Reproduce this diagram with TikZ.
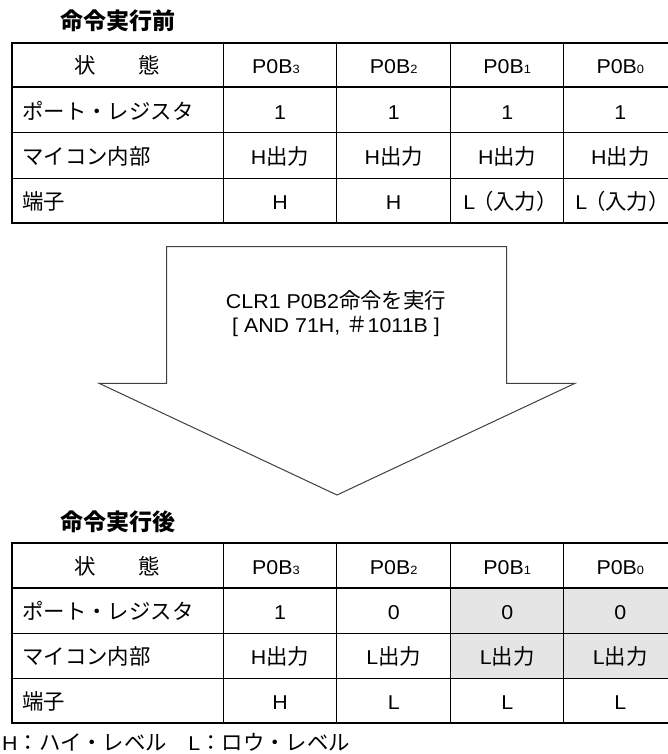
\documentclass[tikz,border=0pt]{standalone}
\usepackage{fontspec}
\setmainfont{Liberation Sans}[FakeStretch=1.07]
\newfontfamily\cjk{Noto Sans CJK JP}[Scale=1.07]
\newcommand\sbs[1]{{\fontsize{12}{12}\selectfont #1}}
\newcommand\inpL{L{\cjk\kern-3pt（入力）\kern-5pt}}
\begin{document}
\begin{tikzpicture}[x=1pt,y=-1pt,
  thin line/.style={line width=1pt, black},
  thick line/.style={line width=2pt, black},
  cell/.style={anchor=base, inner sep=0pt, font=\fontsize{20}{24}\selectfont},
  lcell/.style={cell, anchor=base west},
  title/.style={anchor=base, inner sep=0pt, font=\cjk\bfseries\fontsize{21.5}{21.5}\selectfont},
  shade/.style={fill=black!10, draw=none},
  bigarrow/.style={draw=black!75, line width=1pt, fill=white, line join=miter}]
\useasboundingbox (0,0) rectangle (667,754);

% ---------- Table 1 (before) ----------
\node[title] (t1) at (118,30) {命令実行前};
\foreach \y in {133,178.3} \draw[thin line] (12,\y) -- (677,\y);
\foreach \x in {223.3,336.7,450.7,563.7} \draw[thin line] (\x,42.7) -- (\x,222.7);
\draw[thick line] (12,87.5) -- (677,87.5);
\draw[thick line] (12,42.7) rectangle (677,222.7);

\node[cell] (a00) at (117,74) {\cjk 状　　態};
\node[cell] (a01) at (276,74) {P0B\sbs{3}};
\node[cell] (a02) at (393.7,74) {P0B\sbs{2}};
\node[cell] (a03) at (507.2,74) {P0B\sbs{1}};
\node[cell] (a04) at (620.3,74) {P0B\sbs{0}};

\node[lcell] (a10) at (22,119.2) {\cjk ポート・レジスタ};
\node[cell] (a11) at (280,119.2) {1};
\node[cell] (a12) at (393.7,119.2) {1};
\node[cell] (a13) at (507.2,119.2) {1};
\node[cell] (a14) at (620.3,119.2) {1};

\node[lcell] (a20) at (22,164.6) {\cjk マイコン内部};
\node[cell] (a21) at (280,164.6) {H{\cjk 出力}};
\node[cell] (a22) at (393.7,164.6) {H{\cjk 出力}};
\node[cell] (a23) at (507.2,164.6) {H{\cjk 出力}};
\node[cell] (a24) at (620.3,164.6) {H{\cjk 出力}};

\node[lcell] (a30) at (22,209.5) {\cjk 端子};
\node[cell] (a31) at (280,209.5) {H};
\node[cell] (a32) at (393.7,209.5) {H};
\node[cell] (a33) at (508,209.5) {\inpL};
\node[cell] (a34) at (620,209.5) {\inpL};

% ---------- Arrow ----------
\draw[bigarrow] (166.7,246.7) -- (506.7,246.7) -- (506.7,383.3) -- (575,383.3)
  -- (337,495) -- (99,383.3) -- (166.7,383.3) -- cycle;
\node[cell] (cmd1) at (336,308) {CLR1 P0B2{\cjk 命令を実行}};
\node[cell] (cmd2) at (336,332) {[ AND 71H, {\cjk ＃}1011B ]};

% ---------- Table 2 (after) ----------
\node[title] (t2) at (118,530) {命令実行後};
\fill[shade] (450.7,587.5) rectangle (677,678.3);
\foreach \y in {633,678.3} \draw[thin line] (12,\y) -- (677,\y);
\foreach \x in {223.3,336.7,450.7,563.7} \draw[thin line] (\x,542.7) -- (\x,722.7);
\draw[thick line] (12,587.5) -- (677,587.5);
\draw[thick line] (12,542.7) rectangle (677,722.7);

\node[cell] (b00) at (117,574) {\cjk 状　　態};
\node[cell] (b01) at (276,574) {P0B\sbs{3}};
\node[cell] (b02) at (393.7,574) {P0B\sbs{2}};
\node[cell] (b03) at (507.2,574) {P0B\sbs{1}};
\node[cell] (b04) at (620.3,574) {P0B\sbs{0}};

\node[lcell] (b10) at (22,619.2) {\cjk ポート・レジスタ};
\node[cell] (b11) at (280,619.2) {1};
\node[cell] (b12) at (393.7,619.2) {0};
\node[cell] (b13) at (507.2,619.2) {0};
\node[cell] (b14) at (620.3,619.2) {0};

\node[lcell] (b20) at (22,664.6) {\cjk マイコン内部};
\node[cell] (b21) at (280,664.6) {H{\cjk 出力}};
\node[cell] (b22) at (393.7,664.6) {L{\cjk 出力}};
\node[cell] (b23) at (507.2,664.6) {L{\cjk 出力}};
\node[cell] (b24) at (620.3,664.6) {L{\cjk 出力}};

\node[lcell] (b30) at (22,709.5) {\cjk 端子};
\node[cell] (b31) at (280,709.5) {H};
\node[cell] (b32) at (393.7,709.5) {L};
\node[cell] (b33) at (507.2,709.5) {L};
\node[cell] (b34) at (620.3,709.5) {L};

% ---------- Footer ----------
\node[lcell] (foot) at (2,750) {H{\cjk ：ハイ・レベル　}L{\cjk ：ロウ・レベル}};
\end{tikzpicture}
\end{document}
